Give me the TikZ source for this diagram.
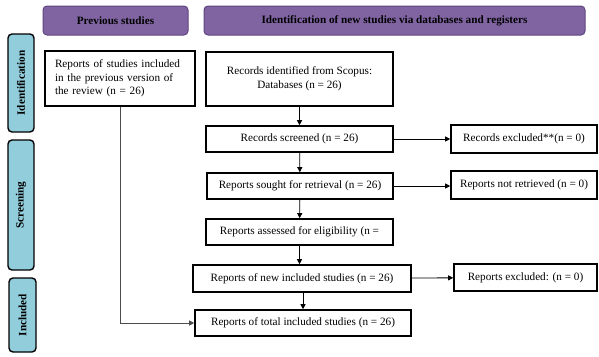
\documentclass[tikz,border=0pt]{standalone}
\usepackage{fontspec}
\setmainfont{Liberation Serif}
\usetikzlibrary{arrows.meta}

\definecolor{headpurple}{RGB}{128,100,162}
\definecolor{headedge}{RGB}{94,70,128}
\definecolor{phaseblue}{RGB}{146,205,220}

\begin{document}
\begin{tikzpicture}[x=1pt, y=-1pt,
        every node/.style={font=\fontsize{11.2}{13.6}\selectfont},
        box/.style={draw, line width=1.6pt, minimum height=26pt, inner sep=2pt, align=center},
        header/.style={draw=headedge, fill=headpurple, line width=1pt, rounded corners=4pt,
            minimum height=29pt, font=\fontsize{11.2}{13.6}\selectfont\bfseries},
        phase/.style={draw, fill=phaseblue, line width=1.4pt, rounded corners=4pt, rotate=90,
            font=\fontsize{11.2}{13.6}\selectfont\bfseries},
        arr/.style={-{Triangle[length=5pt,width=5pt]}, line width=0.8pt}]
        \useasboundingbox (0,0) rectangle (599,356);

        % Headers
        \node[header, minimum width=145pt] (prevhead) at (115.5,20.5) {Previous studies};
        \node[header, minimum width=381pt] (newhead) at (394.5,20.5) {Identification of new studies via databases and registers};

        % Phases
        \node[phase, minimum width=98pt, minimum height=26pt] (identphase) at (21,83) {Identification};
        \node[phase, minimum width=130pt, minimum height=26pt] (screenphase) at (21,205) {Screening};
        \node[phase, minimum width=74pt, minimum height=27pt] (inclphase) at (22.5,315) {Included};

        % Previous studies
        \node[box, minimum height=55pt, text width=130pt, inner xsep=10pt, align=left] (prev) at (120,78.5)
            {Reports of studies included\\in the previous version of\\the review (n = 26)};

        % New studies
        \node[box, minimum width=187pt, minimum height=54pt] (ident) at (299.5,79)
            {Records identified from Scopus:\\Databases (n = 26)};
        \node[box, minimum width=187pt] (screened) at (299.5,139) {Records screened (n = 26)};
        \node[box, minimum width=146pt, minimum height=28pt] (excluded) at (524,139) {Records excluded**(n = 0)};
        \node[box, minimum width=186pt] (sought) at (300,186) {Reports sought for retrieval (n = 26)};
        \node[box, minimum width=146pt, minimum height=28pt] (notretrieved) at (524,185) {Reports not retrieved (n = 0)};
        \node[box, minimum width=187pt] (assessed) at (299.5,232) {Reports assessed for eligibility (n =};
        \node[box, minimum width=218pt, minimum height=27pt] (newincl) at (302,278.5) {Reports of new included studies (n = 26)};
        \node[box, minimum width=143pt, minimum height=27pt] (repexcluded) at (525.5,277.5) {Reports excluded: (n = 0)};
        \node[box, minimum width=216pt] (total) at (303,323) {Reports of total included studies (n = 26)};

        % Arrows
        \draw[arr] (ident) -- (screened);
        \draw[arr] (screened) -- (sought);
        \draw[arr] (sought) -- (assessed);
        \draw[arr] (assessed.south) -- (assessed.south |- newincl.north);
        \draw[arr] (newincl.south -| total.north) -- (total.north);
        \draw[arr] (screened) -- (excluded);
        \draw[arr] (sought.east) -- (sought.east -| notretrieved.west);
        \draw[arr] (newincl) -- (repexcluded);
        \draw[arr, draw=black!70] (prev.south) |- (total.west);
\end{tikzpicture}
\end{document}
